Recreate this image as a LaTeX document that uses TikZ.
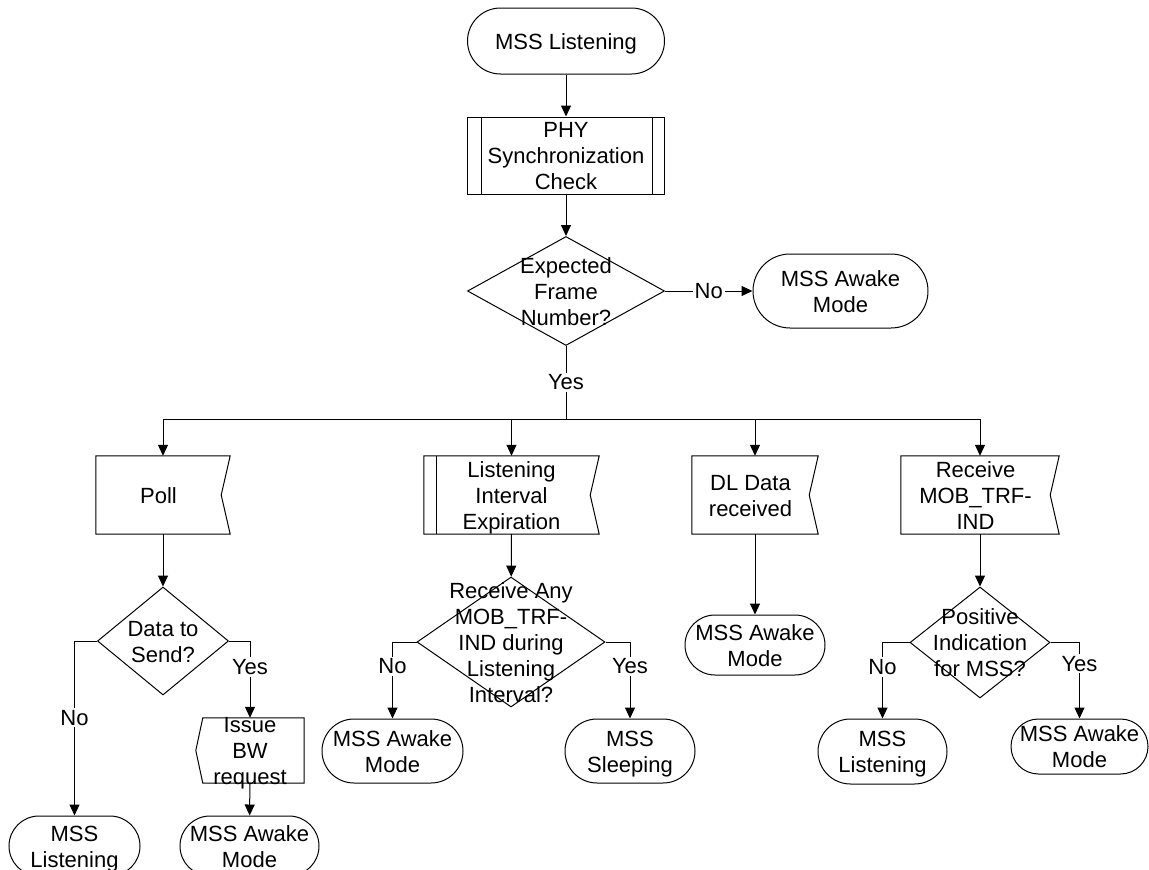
\documentclass[tikz,border=0pt]{standalone}
\usepackage{fontspec}
\setmainfont{Liberation Sans}
\usetikzlibrary{shapes.geometric,shapes.misc,arrows.meta}
\newcommand{\ctext}[1]{\makebox[0pt]{\raisebox{-8pt}[0pt][0pt]{\begin{tabular}{@{}c@{}}#1\end{tabular}}}}
\newcommand{\ltext}[1]{\makebox[0pt]{\hspace*{-9pt}\raisebox{-8pt}[0pt][0pt]{\begin{tabular}{@{}c@{}}#1\end{tabular}}}}
\newcommand{\recvshape}[1]{\draw[line width=1pt] (#1.north west) -- (#1.north east) -- ([xshift=-9pt]#1.east) -- (#1.south east) -- (#1.south west) -- cycle;}
\newcommand{\sendshape}[1]{\draw[line width=1pt] ([xshift=7pt]#1.north west) -- (#1.north east) -- (#1.south east) -- ([xshift=7pt]#1.south west) -- (#1.west) -- cycle;}
\tikzset{
  txt/.style={inner sep=0pt, font=\fontsize{22}{26}\selectfont},
  term/.style={txt, draw, line width=1pt, rounded rectangle},
  proc/.style={txt, draw, line width=1pt, rectangle},
  dec/.style={txt, draw, line width=1pt, diamond},
  recv/.style={txt, rectangle},
  arr/.style={-{Triangle[length=11pt,width=10pt]}, line width=1pt},
  yn/.style={txt, fill=white, inner sep=2pt},
}

\begin{document}
\begin{tikzpicture}[x=1pt,y=-1pt]
\useasboundingbox (0,0) rectangle (1149,870);
\clip (0,0) rectangle (1149,870);
% top of the chart
\node[term, minimum width=197, minimum height=66] (start) at (566,41) {\ctext{MSS Listening}};
\node[proc, minimum width=197, minimum height=77] (phy) at (566,155.5) {\ctext{PHY\\Synchronization\\Check}};
\draw[line width=1pt] ([xshift=14pt]phy.north west) -- ([xshift=14pt]phy.south west);
\draw[line width=1pt] ([xshift=-13pt]phy.north east) -- ([xshift=-13pt]phy.south east);
\node[dec, minimum width=197, minimum height=109] (expect) at (566,291) {\ctext{Expected\\Frame\\Number?}};
\node[term, minimum width=175, minimum height=74] (awk0) at (840.5,291) {\ctext{MSS Awake\\Mode}};
\coordinate (split) at (566,419);
\draw[arr] (start) -- (phy);
\draw[arr] (phy) -- (expect);
\draw[arr] (expect.east) -- node[yn]{No} (awk0.west);
\draw[line width=1pt] (expect.south) -- node[yn]{Yes} (split);

% four events
\node[recv, minimum width=134, minimum height=78] (poll) at (163,495) {\ltext{Poll}};
\recvshape{poll}
\node[recv, minimum width=175, minimum height=78] (lie) at (511.5,495) {\ctext{Listening\\Interval\\Expiration}};
\recvshape{lie}
\draw[line width=1pt] ([xshift=13pt]lie.north west) -- ([xshift=13pt]lie.south west);
\node[recv, minimum width=126, minimum height=78] (dl) at (755,495) {\ltext{DL Data\\received}};
\recvshape{dl}
\node[recv, minimum width=158, minimum height=78] (rmob) at (980,495) {\ltext{Receive\\MOB\_TRF-\\IND}};
\recvshape{rmob}
\draw[line width=1pt] (split) -- (split -| poll.north);
\draw[line width=1pt] (split) -- (split -| rmob.north);
\draw[arr] (split -| poll.north) -- (poll.north);
\draw[arr] (split -| lie.north) -- (lie.north);
\draw[arr] (split -| dl.north) -- (dl.north);
\draw[arr] (split -| rmob.north) -- (rmob.north);

% poll branch
\node[dec, minimum width=131, minimum height=108] (data) at (163,641) {\ctext{Data to\\Send?}};
\node[recv, minimum width=108, minimum height=65] (issue) at (250,750.5) {\ctext{Issue\\BW\\request}};
\sendshape{issue}
\node[term, minimum width=131, minimum height=60] (lst1) at (74.5,846) {\ctext{MSS\\Listening}};
\node[term, minimum width=139, minimum height=60] (awk1) at (249.5,846) {\ctext{MSS Awake\\Mode}};
\draw[arr] (poll) -- (data);
\draw[arr] (data.west) -| node[yn, pos=0.72]{No} (lst1.north);
\draw[arr] (data.east) -| node[yn, pos=0.67]{Yes} (issue.north);
\draw[arr] (issue) -- (awk1);

% listening interval branch
\node[dec, minimum width=188, minimum height=130] (rany) at (511,642) {\ctext{Receive Any\\MOB\_TRF-\\IND during\\Listening\\Interval?}};
\node[term, minimum width=141, minimum height=64] (awk2) at (392.5,751) {\ctext{MSS Awake\\Mode}};
\node[term, minimum width=130, minimum height=64] (sleep) at (630,751) {\ctext{MSS\\Sleeping}};
\draw[arr] (lie) -- (rany);
\draw[arr] (rany.west) -| node[yn, pos=0.66]{No} (awk2.north);
\draw[arr] (rany.east) -| node[yn, pos=0.66]{Yes} (sleep.north);

% DL data branch
\node[term, minimum width=140, minimum height=60] (awk3) at (755,645) {\ctext{MSS Awake\\Mode}};
\draw[arr] (dl) -- (awk3);

% MOB_TRF-IND branch
\node[dec, minimum width=140, minimum height=111] (pos) at (980,642.5) {\ctext{Positive\\Indication\\for MSS?}};
\node[term, minimum width=129, minimum height=65] (lst2) at (882.5,751.5) {\ctext{MSS\\Listening}};
\node[term, minimum width=137, minimum height=55] (awk4) at (1079.5,746.5) {\ctext{MSS Awake\\Mode}};
\draw[arr] (rmob) -- (pos);
\draw[arr] (pos.west) -| node[yn, pos=0.66]{No} (lst2.north);
\draw[arr] (pos.east) -| node[yn, pos=0.64]{Yes} (awk4.north);
\end{tikzpicture}
\end{document}
